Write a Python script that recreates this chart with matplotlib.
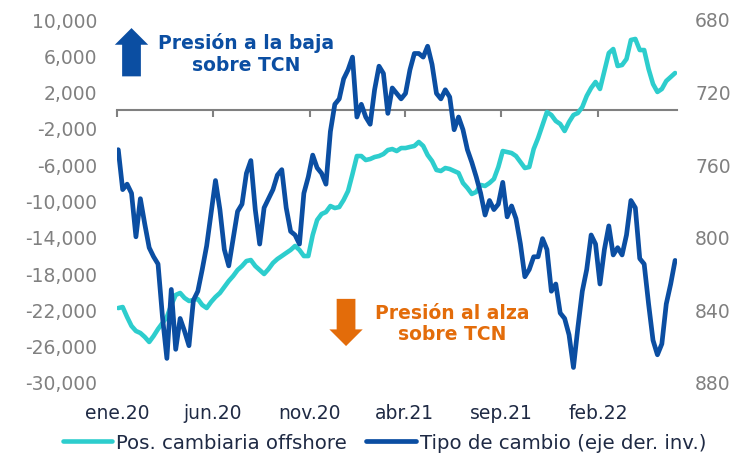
import matplotlib
matplotlib.use("Agg")
import matplotlib.pyplot as plt
import matplotlib.dates as mdates
import pandas as pd

# ---------------- data (weekly readings) ----------------
start_date = "2020-01-03"
n_weeks = 127

pos_offshore = [
    -21850, -21740, -22840, -23830, -24380, -24600, -25040, -25590, -24930, -24160,
    -23500, -22840, -21510, -20410, -20190, -20740, -21070, -20960, -20850, -21510,
    -21850, -21180, -20630, -20190, -19530, -18870, -18320, -17660, -17220, -16670,
    -16560, -17220, -17660, -18100, -17550, -16890, -16450, -16120, -15780, -15450,
    -15010, -15450, -16120, -16120, -13800, -12150, -11490, -11270, -10610, -10830,
    -10720, -9940, -8950, -7080, -5100, -5100, -5540, -5430, -5210, -5100,
    -4880, -4440, -4330, -4550, -4220, -4220, -4100, -3990, -3550, -3990,
    -4990, -5650, -6640, -6750, -6420, -6530, -6750, -6970, -8070, -8620,
    -9280, -9060, -8290, -8400, -8070, -7630, -6310, -4550, -4660, -4770,
    -5100, -5760, -6420, -6310, -4330, -3110, -1680, -250, -580, -1240,
    -1570, -2340, -1350, -580, -360, 300, 1520, 2400, 3060, 2290,
    4270, 6250, 6690, 4820, 4930, 5590, 7690, 7800, 6580, 6580,
    4490, 2840, 1960, 2290, 3170, 3610, 4050,
]

tipo_cambio = [
    752, 774, 771, 776, 800, 779, 793, 806, 811, 815,
    844, 867, 829, 862, 845, 852, 860, 835, 830, 818,
    805, 787, 769, 785, 807, 816, 801, 786, 782, 765,
    758, 785, 804, 784, 779, 774, 766, 763, 784, 797,
    799, 804, 776, 767, 755, 762, 765, 771, 742, 727,
    724, 713, 708, 701, 734, 727, 734, 738, 719, 706,
    710, 732, 718, 721, 724, 721, 708, 699, 699, 701,
    695, 705, 721, 724, 719, 723, 741, 734, 741, 752,
    759, 767, 776, 788, 780, 785, 782, 770, 789, 783,
    790, 804, 822, 818, 811, 811, 801, 807, 830, 826,
    842, 845, 854, 872, 850, 830, 818, 799, 804, 826,
    807, 794, 810, 806, 810, 799, 780, 784, 812, 815,
    837, 857, 865, 859, 837, 826, 813,
]

tick_dates = ["2020-01-01", "2020-06-01", "2020-11-01",
              "2021-04-01", "2021-09-01", "2022-02-01"]
tick_labels = ["ene.20", "jun.20", "nov.20", "abr.21", "sep.21", "feb.22"]
left_ticks = list(range(-30000, 10001, 4000))
right_ticks = [680, 720, 760, 800, 840, 880]

series_names = ["Pos. cambiaria offshore", "Tipo de cambio (eje der. inv.)"]

# ---------------- styling ----------------
CYAN = "#2DCDCD"
BLUE = "#0B4EA2"
ORANGE = "#E36C0A"
GRAY_TXT = "#808080"
NAVY_TXT = "#1F2A44"
AXIS_GRAY = "#808080"

plt.rcParams["font.family"] = ["DejaVu Sans"]
plt.rcParams["axes.unicode_minus"] = False

dates = pd.date_range(start_date, periods=n_weeks, freq="W-FRI")

fig = plt.figure(figsize=(7.39, 4.56), dpi=100)
ax = fig.add_axes([117 / 739, 1 - 383 / 456, 560 / 739, 363 / 456])
ax2 = ax.twinx()

l1, = ax.plot(dates, pos_offshore, color=CYAN, lw=3.3, solid_capstyle="round",
              solid_joinstyle="round", label=series_names[0], zorder=3)
l2, = ax2.plot(dates, tipo_cambio, color=BLUE, lw=3.4, solid_capstyle="round",
               solid_joinstyle="round", label=series_names[1], zorder=3)

ax.set_xlim(pd.Timestamp("2020-01-01"), pd.Timestamp("2022-06-06"))
ax.set_ylim(-30000, 10000)
ax2.set_ylim(880, 680)

# spines
for a in (ax, ax2):
    for s in ("top", "right", "left"):
        a.spines[s].set_visible(False)
ax2.spines["bottom"].set_visible(False)
ax.spines["bottom"].set_position(("data", 0))
ax.spines["bottom"].set_color(AXIS_GRAY)
ax.spines["bottom"].set_linewidth(1.5)
ax.spines["bottom"].set_zorder(1)

# x ticks at zero line, labels at bottom
tick_ts = [pd.Timestamp(d) for d in tick_dates]
ax.set_xticks(tick_ts)
ax.tick_params(axis="x", direction="out", length=5, width=1.5,
               color=AXIS_GRAY, labelbottom=False)
for t, lab in zip(tick_ts, tick_labels):
    ax.annotate(lab, xy=(mdates.date2num(t), 0), xycoords=ax.get_xaxis_transform(),
                xytext=(0, -15), textcoords="offset points",
                ha="center", va="top", fontsize=13.5, color=NAVY_TXT)

# y ticks
ax.set_yticks(left_ticks)
ax.set_yticklabels([f"{v:,.0f}" for v in left_ticks])
ax.tick_params(axis="y", length=0, pad=14, labelsize=13.5, labelcolor=GRAY_TXT)
ax2.set_yticks(right_ticks)
ax2.set_yticklabels([str(v) for v in right_ticks])
ax2.tick_params(axis="y", length=0, pad=13, labelsize=13.5, labelcolor=GRAY_TXT)

# annotations
ax.text(0.230, 0.906, "Presión a la baja\nsobre TCN", transform=ax.transAxes,
        ha="center", va="center", fontsize=13.5, fontweight="bold",
        color=BLUE, linespacing=1.15)
ax.text(0.598, 0.163, "Presión al alza\nsobre TCN", transform=ax.transAxes,
        ha="center", va="center", fontsize=13.5, fontweight="bold",
        color=ORANGE, linespacing=1.15)

up_style = "simple,head_width=24,head_length=12,tail_width=13.5"
ax.annotate("", xy=(0.0259, 0.975), xycoords="axes fraction",
            xytext=(0.0259, 0.842), textcoords="axes fraction",
            arrowprops=dict(arrowstyle=up_style, color=BLUE, lw=0,
                            shrinkA=0, shrinkB=0, mutation_scale=1))
ax.annotate("", xy=(0.409, 0.099), xycoords="axes fraction",
            xytext=(0.409, 0.229), textcoords="axes fraction",
            arrowprops=dict(arrowstyle=up_style, color=ORANGE, lw=0,
                            shrinkA=0, shrinkB=0, mutation_scale=1))

# legend
leg = fig.legend(handles=[l1, l2], loc="center", bbox_to_anchor=(0.520, 0.028),
                 ncol=2, frameon=False, fontsize=14.2, handlelength=2.5,
                 handletextpad=0.2, columnspacing=1.0)
for txt in leg.get_texts():
    txt.set_color(NAVY_TXT)

fig.savefig("out.png", dpi=100)
